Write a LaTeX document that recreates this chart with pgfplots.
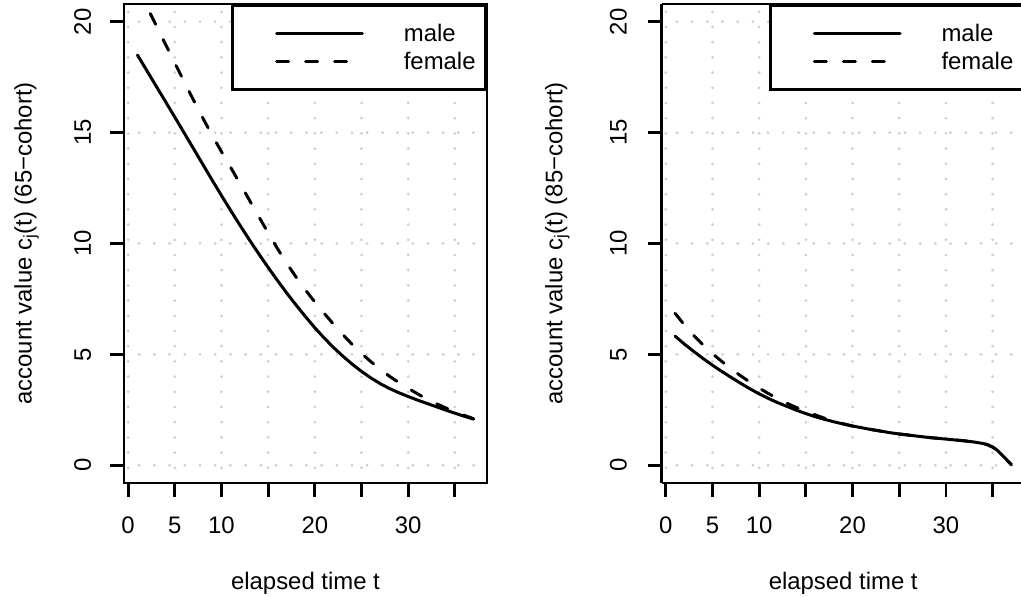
\documentclass[border=0pt]{standalone}
\usepackage{fontspec}
\setmainfont{Liberation Sans}
\usepackage{pgfplots}
\pgfplotsset{compat=1.18}
\definecolor{gridgray}{RGB}{205,205,205}
\newcommand{\rf}{\fontsize{24}{28}\selectfont}
\pgfplotsset{
  rpanel/.style={
    scale only axis, width=363bp, height=479bp,
    xmin=-0.44, xmax=38.44, ymin=-0.8, ymax=20.8,
    xtick={0,5,10,15,20,25,30,35},
    xticklabels={0,5,10,,20,,30,},
    ytick={0,5,10,15,20},
    yticklabels={0,5,10,15,20},
    tick align=outside, tick pos=left,
    major tick length=14bp,
    tick style={black, line width=2.8bp},
    axis line style={line width=2.8bp},
    grid=major,
    grid style={draw=gridgray, line width=3bp, line cap=round, dash pattern=on 0bp off 15.2bp},
    /pgf/number format/assume math mode=true,
    tick label style={font=\rf},
    xticklabel style={anchor=base},
    xticklabel shift=36bp,
    yticklabel style={rotate=90, anchor=base},
    every axis x label/.style={at={(axis description cs:0.5,-0.2215)}, anchor=base, font=\rf},
    legend style={at={(1,1)}, anchor=north east, draw=black, line width=2.8bp, fill=white,
      inner xsep=10bp, inner ysep=13.85bp, row sep=0pt, font=\rf,
      nodes={inner sep=0pt, text height=22.15bp, text depth=6.15bp},
      cells={anchor=base west},
      /tikz/every odd column/.append style={column sep=40bp}},
    legend image code/.code={\path (0bp,0bp); \draw[##1] (32.6bp,7.7bp) -- (118.3bp,7.7bp);},
    male/.style={black, line width=3bp, line cap=round, line join=round},
    female/.style={black, line width=3bp, line cap=round, line join=round, dash pattern=on 12bp off 17bp},
  }
}
\begin{document}
\begin{tikzpicture}
\begin{axis}[rpanel, at={(124bp,114bp)}, anchor=south west,
  yticklabel shift=19bp,
  xlabel={elapsed time t},
  every axis y label/.style={at={(axis description cs:-0.2543,0.5)}, rotate=90, anchor=base, font=\rf},
  ylabel={account value c\textsubscript{j}(t) (65−cohort)}]
\addplot[male] coordinates {
(1,18.50) (2,17.80) (3,17.10) (4,16.40) (5,15.70) (6,14.99) (7,14.28) (8,13.57) (9,12.86) (10,12.16)
(11,11.48) (12,10.81) (13,10.16) (14,9.53) (15,8.92) (16,8.33) (17,7.76) (18,7.22) (19,6.70) (20,6.20)
(21,5.74) (22,5.31) (23,4.92) (24,4.56) (25,4.23) (26,3.94) (27,3.68) (28,3.46) (29,3.27) (30,3.10)
(31,2.94) (32,2.79) (33,2.64) (34,2.49) (35,2.35) (36,2.21) (37,2.08)};
\addlegendentry{male}
\addplot[female] coordinates {
(1,21.54) (2,20.69) (3,19.84) (4,18.99) (5,18.14) (6,17.30) (7,16.47) (8,15.66) (9,14.88) (10,14.14)
(11,13.42) (12,12.69) (13,11.95) (14,11.21) (15,10.48) (16,9.77) (17,9.10) (18,8.48) (19,7.90) (20,7.36)
(21,6.85) (22,6.36) (23,5.89) (24,5.45) (25,5.04) (26,4.67) (27,4.33) (28,4.01) (29,3.73) (30,3.47)
(31,3.22) (32,2.99) (33,2.78) (34,2.59) (35,2.41) (36,2.25) (37,2.10)};
\addlegendentry{female}
\end{axis}
\begin{axis}[rpanel, at={(661.7bp,114bp)}, anchor=south west,
  axis x line*=box, axis y line*=left,
  yticklabel shift=21bp,
  xlabel={elapsed time t},
  every axis y label/.style={at={(axis description cs:-0.2738,0.5)}, rotate=90, anchor=base, font=\rf},
  ylabel={account value c\textsubscript{j}(t) (85−cohort)}]
\addplot[male] coordinates {
(1,5.82) (2,5.46) (3,5.13) (4,4.81) (5,4.51) (6,4.23) (7,3.96) (8,3.70) (9,3.45) (10,3.22)
(11,3.01) (12,2.82) (13,2.65) (14,2.48) (15,2.33) (16,2.19) (17,2.07) (18,1.96) (19,1.86) (20,1.77)
(21,1.69) (22,1.61) (23,1.54) (24,1.47) (25,1.41) (26,1.36) (27,1.31) (28,1.26) (29,1.22) (30,1.18)
(31,1.14) (32,1.10) (33,1.05) (34,0.98) (34.5,0.92) (35,0.82) (35.5,0.68) (36,0.47) (36.5,0.25) (37,0.03)};
\addlegendentry{male}
\addplot[female] coordinates {
(1,6.85) (2,6.32) (3,5.85) (4,5.42) (5,5.03) (6,4.68) (7,4.35) (8,4.04) (9,3.75) (10,3.48)
(11,3.23) (12,3.00) (13,2.79) (14,2.60) (15,2.43) (16,2.27) (17,2.12) (18,1.99) (19,1.87) (20,1.77)
(21,1.69) (22,1.61) (23,1.54) (24,1.47) (25,1.41) (26,1.36) (27,1.31) (28,1.26) (29,1.22) (30,1.18)
(31,1.14) (32,1.10) (33,1.05) (34,0.98) (34.5,0.92) (35,0.82) (35.5,0.68) (36,0.47) (36.5,0.25) (37,0.03)};
\addlegendentry{female}
\end{axis}
\pgfresetboundingbox
\useasboundingbox (0,0) rectangle (1021bp,597bp);
\end{tikzpicture}
\end{document}
